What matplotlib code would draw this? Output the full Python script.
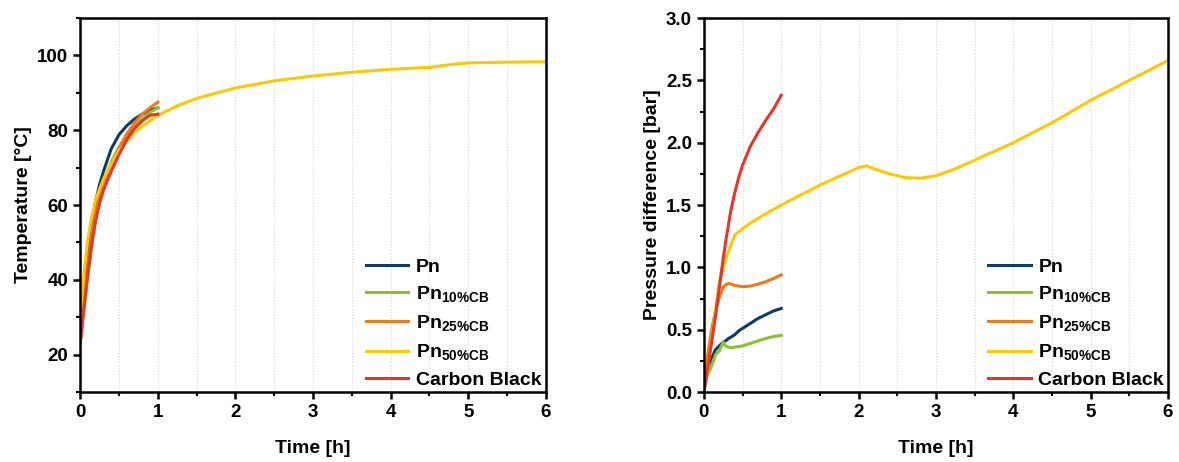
import numpy as np
import matplotlib.pyplot as plt
from matplotlib.ticker import MultipleLocator

# temperature [°C] vs time [h]
t_short = [0.0, 0.05, 0.1, 0.15, 0.2, 0.25, 0.3, 0.4, 0.5, 0.6, 0.7, 0.8, 0.9, 1.0]
temp_pn = [23, 37, 47, 55, 61, 65.5, 69, 75, 78.8, 81.2, 83, 84.3, 85.3, 86]
temp_pn10 = [23, 32, 41, 49, 56, 61, 65.5, 71.5, 75.5, 78.7, 81, 83, 84.8, 86]
temp_pn25 = [23, 34, 44, 52, 58, 62.5, 66, 70.5, 75, 79, 82, 84.3, 86, 87.5]
temp_cb = [23, 33, 42, 50, 56, 60.5, 64, 69, 73.5, 77.5, 80.5, 82.5, 84, 84.3]
t_long = [0.0, 0.05, 0.1, 0.15, 0.2, 0.3, 0.4, 0.5, 0.7, 1.0, 1.25, 1.5, 2.0, 2.5,
          3.0, 3.5, 4.0, 4.5, 4.75, 5.0, 5.5, 6.0]
temp_pn50 = [28, 42, 51, 57, 61.5, 67, 71, 74.5, 79.5, 84, 86.5, 88.5, 91.3, 93.2,
             94.5, 95.5, 96.3, 96.8, 97.5, 98.0, 98.2, 98.3]

# pressure difference [bar] vs time [h]
p_t_short = [0.0, 0.05, 0.1, 0.15, 0.2, 0.25, 0.28, 0.32, 0.35, 0.4, 0.45, 0.5,
             0.6, 0.7, 0.8, 0.9, 1.0]
p_pn = [0.0, 0.2, 0.27, 0.34, 0.37, 0.40, 0.41, 0.43, 0.44, 0.46, 0.49, 0.51,
        0.55, 0.59, 0.62, 0.65, 0.67]
p_pn10 = [0.05, 0.14, 0.21, 0.3, 0.33, 0.40, 0.37, 0.36, 0.355, 0.36, 0.365, 0.37,
          0.39, 0.41, 0.43, 0.445, 0.455]
p_pn25 = [0.0, 0.3, 0.5, 0.65, 0.76, 0.84, 0.86, 0.87, 0.865, 0.855, 0.85, 0.845,
          0.85, 0.865, 0.885, 0.91, 0.94]
p_cb = [0.0, 0.2, 0.40, 0.61, 0.84, 1.07, 1.2, 1.35, 1.46, 1.60, 1.72, 1.82,
        1.97, 2.08, 2.18, 2.27, 2.38]
p_t_long = [0.0, 0.05, 0.1, 0.15, 0.2, 0.3, 0.4, 0.5, 0.6, 0.8, 1.0, 1.25, 1.5,
            1.75, 2.0, 2.1, 2.2, 2.4, 2.6, 2.8, 3.0, 3.25, 3.5, 4.0, 4.5, 5.0, 5.5, 6.0]
p_pn50 = [0.0, 0.2, 0.42, 0.66, 0.88, 1.10, 1.26, 1.31, 1.355, 1.43, 1.50, 1.58, 1.66,
          1.73, 1.80, 1.815, 1.79, 1.75, 1.72, 1.715, 1.735, 1.79, 1.86, 2.0, 2.16,
          2.34, 2.50, 2.66]

labels = ['Pn', r'Pn$_{\mathbf{10\%CB}}$', r'Pn$_{\mathbf{25\%CB}}$',
          r'Pn$_{\mathbf{50\%CB}}$', 'Carbon Black']
colors = ['#0e3d63', '#8dc02c', '#ef7b16', '#fdc806', '#e6352c']

plt.rcParams['font.family'] = ['Liberation Sans', 'DejaVu Sans']
plt.rcParams['font.weight'] = 'bold'
plt.rcParams['mathtext.fontset'] = 'custom'
plt.rcParams['mathtext.rm'] = 'Liberation Sans:bold'
plt.rcParams['mathtext.bf'] = 'Liberation Sans:bold'


def style_axes(ax):
    for s in ax.spines.values():
        s.set_linewidth(1.8)
    ax.xaxis.set_major_locator(MultipleLocator(1))
    ax.xaxis.set_minor_locator(MultipleLocator(0.5))
    ax.grid(True, axis='x', which='both', linestyle=':', color='#d8d8d8', linewidth=0.8)
    ax.tick_params(which='major', direction='out', length=5, width=1.8, labelsize=13.5)
    ax.tick_params(which='minor', direction='out', length=3, width=1.5)
    ax.set_xlim(0, 6)
    ax.set_xlabel('Time [h]', fontsize=14, fontweight='bold', labelpad=14)
    ax.legend(loc='lower right', bbox_to_anchor=(1.012, -0.018), frameon=False,
              fontsize=14, handlelength=2.2, handletextpad=0.4, labelspacing=0.45,
              borderaxespad=0.1)


fig = plt.figure(figsize=(11.79, 4.62), dpi=100)
ax1 = fig.add_axes([0.068, 0.1515, 0.395, 0.8095])
ax2 = fig.add_axes([0.597, 0.1515, 0.3937, 0.8095])

series_t = [(t_short, temp_pn), (t_short, temp_pn10), (t_short, temp_pn25),
            (t_long, temp_pn50), (t_short, temp_cb)]
for (x, y), lab, c in zip(series_t, labels, colors):
    ax1.plot(x, y, color=c, lw=2.2, label=lab)
ax1.set_ylim(10, 110)
ax1.yaxis.set_major_locator(MultipleLocator(20))
ax1.yaxis.set_minor_locator(MultipleLocator(10))
ax1.set_ylabel('Temperature [°C]', fontsize=14, fontweight='bold', labelpad=4)
style_axes(ax1)

series_p = [(p_t_short, p_pn), (p_t_short, p_pn10), (p_t_short, p_pn25),
            (p_t_long, p_pn50), (p_t_short, p_cb)]
for (x, y), lab, c in zip(series_p, labels, colors):
    ax2.plot(x, y, color=c, lw=2.2, label=lab)
ax2.set_ylim(0, 3)
ax2.yaxis.set_major_locator(MultipleLocator(0.5))
ax2.yaxis.set_minor_locator(MultipleLocator(0.25))
ax2.set_ylabel('Pressure difference [bar]', fontsize=14, fontweight='bold', labelpad=4)
style_axes(ax2)

fig.savefig('out.png', dpi=100)
